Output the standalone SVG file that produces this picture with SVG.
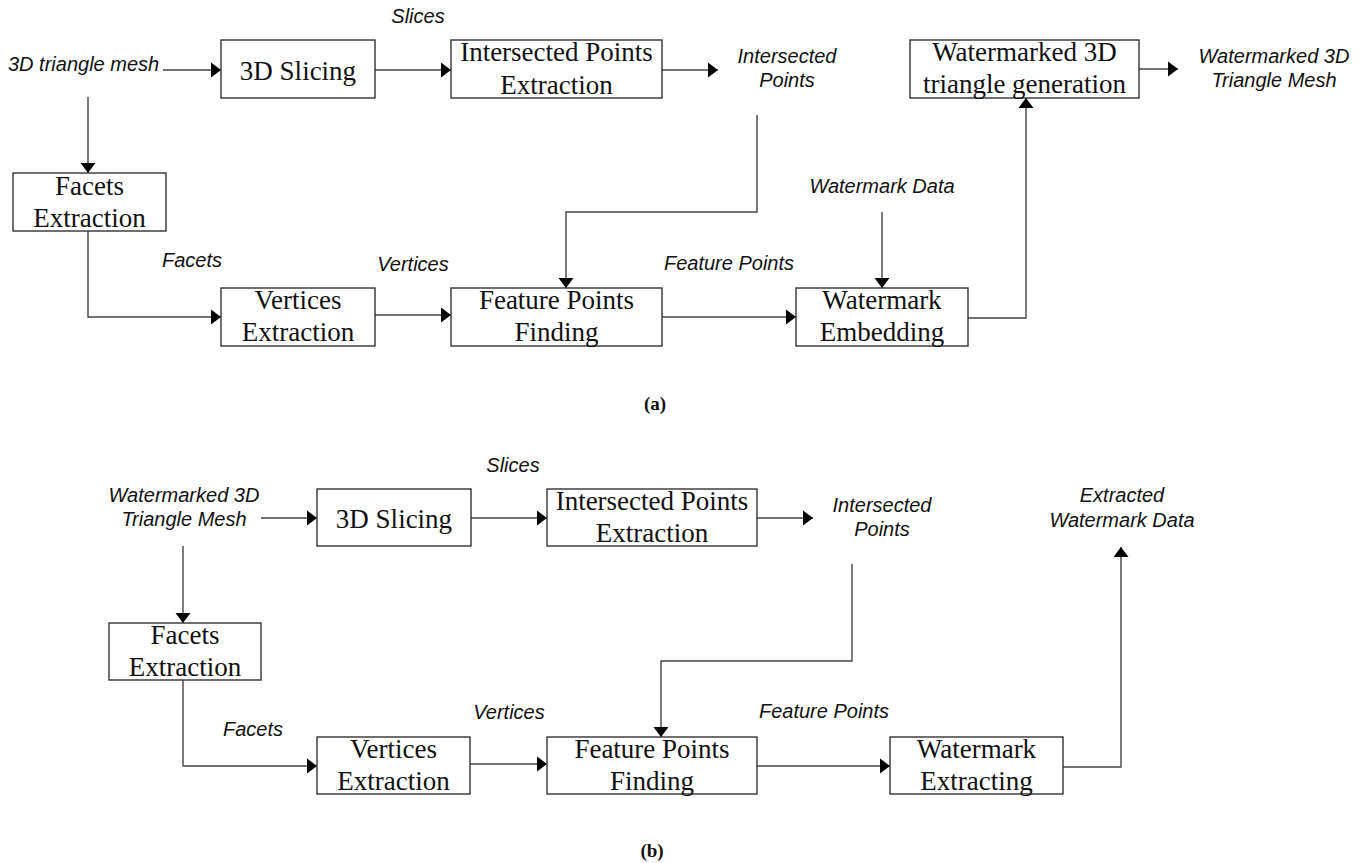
<svg xmlns="http://www.w3.org/2000/svg" width="1368" height="863" viewBox="0 0 1368 863">
<style>
.box{fill:#fff;stroke:#333;stroke-width:1.4}
.bt{font-family:"Liberation Serif","Times New Roman",serif;font-size:27px;fill:#111;text-anchor:middle}
.lb{font-family:"Liberation Sans",Arial,sans-serif;font-size:20px;font-style:italic;fill:#111}
.mid{text-anchor:middle}
.cap{font-family:"Liberation Serif","Times New Roman",serif;font-size:19px;font-weight:bold;fill:#111;text-anchor:middle}
.ln{fill:none;stroke:#444;stroke-width:1.4}
.ar{marker-end:url(#ah)}
</style>
<defs>
<marker id="ah" markerUnits="userSpaceOnUse" markerWidth="12" markerHeight="16" refX="10" refY="7.5" orient="auto" overflow="visible">
<path d="M0,0 L10,7.5 L0,15 z" fill="#000"/>
</marker>
</defs>
<rect width="1368" height="863" fill="#fff"/>

<g id="connectors">
<!-- (a) -->
<path class="ln ar" d="M163,70 H221"/>
<path class="ln ar" d="M375,70 H451"/>
<path class="ln ar" d="M662,70 H718"/>
<path class="ln ar" d="M88,97 V173"/>
<path class="ln ar" d="M88,231 V317 H221"/>
<path class="ln ar" d="M375,315 H451"/>
<path class="ln ar" d="M757,115 V212 H566 V288"/>
<path class="ln ar" d="M882,212 V288"/>
<path class="ln ar" d="M662,317 H796"/>
<path class="ln ar" d="M968,318 H1026 V98"/>
<path class="ln ar" d="M1139,69 H1178"/>
<!-- (b) -->
<path class="ln ar" d="M261,518 H317"/>
<path class="ln ar" d="M471,518 H547"/>
<path class="ln ar" d="M757,518 H813"/>
<path class="ln ar" d="M183,546 V623"/>
<path class="ln ar" d="M183,680 V766 H317"/>
<path class="ln ar" d="M470,764 H547"/>
<path class="ln ar" d="M852,564 V661 H661 V737"/>
<path class="ln ar" d="M757,766 H890"/>
<path class="ln ar" d="M1063,767 H1121 V547"/>
</g>

<!-- (a) nodes -->
<g id="a-slicing"><rect class="box" x="221" y="40" width="154" height="58"/><text class="bt" x="298" y="80">3D Slicing</text></g>
<g id="a-ipe"><rect class="box" x="451" y="40" width="211" height="58"/><text class="bt" x="556.5" y="61">Intersected Points</text><text class="bt" x="556.5" y="94">Extraction</text></g>
<g id="a-wtg"><rect class="box" x="910" y="40" width="229" height="58"/><text class="bt" x="1024.5" y="61">Watermarked 3D</text><text class="bt" x="1024.5" y="93">triangle generation</text></g>
<g id="a-facets"><rect class="box" x="13" y="173" width="153" height="58"/><text class="bt" x="89.5" y="195">Facets</text><text class="bt" x="89.5" y="227">Extraction</text></g>
<g id="a-vertices"><rect class="box" x="221" y="288" width="154" height="58"/><text class="bt" x="298" y="309">Vertices</text><text class="bt" x="298" y="341">Extraction</text></g>
<g id="a-fpf"><rect class="box" x="451" y="288" width="211" height="58"/><text class="bt" x="556.5" y="309">Feature Points</text><text class="bt" x="556.5" y="341">Finding</text></g>
<g id="a-we"><rect class="box" x="796" y="288" width="172" height="58"/><text class="bt" x="882" y="309">Watermark</text><text class="bt" x="882" y="341">Embedding</text></g>

<g id="a-labels">
<text class="lb" x="8" y="71">3D triangle mesh</text>
<text class="lb mid" x="418" y="23">Slices</text>
<text class="lb mid" x="787" y="63">Intersected</text>
<text class="lb mid" x="787" y="87">Points</text>
<text class="lb mid" x="1274" y="63">Watermarked 3D</text>
<text class="lb mid" x="1274" y="87">Triangle Mesh</text>
<text class="lb mid" x="882" y="193">Watermark Data</text>
<text class="lb mid" x="192" y="267">Facets</text>
<text class="lb mid" x="413" y="271">Vertices</text>
<text class="lb mid" x="729" y="270">Feature Points</text>
<text class="cap" x="655" y="410">(a)</text>
</g>

<!-- (b) nodes -->
<g id="b-slicing"><rect class="box" x="317" y="489" width="154" height="57"/><text class="bt" x="394" y="528">3D Slicing</text></g>
<g id="b-ipe"><rect class="box" x="547" y="489" width="210" height="57"/><text class="bt" x="652" y="510">Intersected Points</text><text class="bt" x="652" y="542">Extraction</text></g>
<g id="b-facets"><rect class="box" x="109" y="623" width="152" height="57"/><text class="bt" x="185" y="644">Facets</text><text class="bt" x="185" y="676">Extraction</text></g>
<g id="b-vertices"><rect class="box" x="317" y="737" width="153" height="57"/><text class="bt" x="393.5" y="758">Vertices</text><text class="bt" x="393.5" y="790">Extraction</text></g>
<g id="b-fpf"><rect class="box" x="547" y="737" width="210" height="57"/><text class="bt" x="652" y="758">Feature Points</text><text class="bt" x="652" y="790">Finding</text></g>
<g id="b-we"><rect class="box" x="890" y="737" width="173" height="57"/><text class="bt" x="976.5" y="758">Watermark</text><text class="bt" x="976.5" y="790">Extracting</text></g>

<g id="b-labels">
<text class="lb mid" x="184" y="502">Watermarked 3D</text>
<text class="lb mid" x="184" y="526">Triangle Mesh</text>
<text class="lb mid" x="513" y="472">Slices</text>
<text class="lb mid" x="882" y="512">Intersected</text>
<text class="lb mid" x="882" y="536">Points</text>
<text class="lb mid" x="1122" y="502">Extracted</text>
<text class="lb mid" x="1122" y="527">Watermark Data</text>
<text class="lb mid" x="253" y="736">Facets</text>
<text class="lb mid" x="509" y="719">Vertices</text>
<text class="lb mid" x="824" y="718">Feature Points</text>
<text class="cap" x="652" y="857">(b)</text>
</g>
</svg>
